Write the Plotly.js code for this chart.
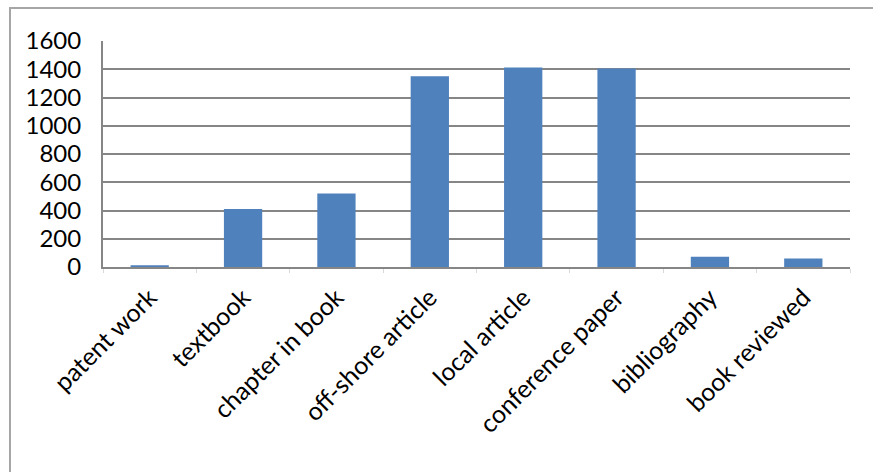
<!DOCTYPE html>
<html>
<head>
<meta charset="utf-8">
<script src="https://cdn.plot.ly/plotly-3.0.1.min.js"></script>
<style>
  html, body { margin: 0; padding: 0; background: #fff; overflow: hidden; }
  #frame { position: absolute; left: 9px; top: 7px; width: 900px; height: 500px; border: 2px solid #a6a6a6; box-sizing: border-box; }
  #chart { position: absolute; left: 0; top: 0; width: 873px; height: 472px; }
</style>
</head>
<body>
<div id="frame"></div>
<div id="chart"></div>
<script>
const categories = ["patent work", "textbook", "chapter in book", "off-shore article", "local article", "conference paper", "bibliography", "book reviewed"];
const values = [12, 410, 520, 1350, 1412, 1405, 73, 60];
const yTicks = [0, 200, 400, 600, 800, 1000, 1200, 1400, 1600];

const trace = {
  type: 'bar',
  x: categories,
  y: values,
  marker: { color: '#4f81bd' },
  hoverinfo: 'x+y'
};

const layout = {
  width: 873,
  height: 472,
  margin: { l: 103, r: 23, t: 41, b: 205 },
  paper_bgcolor: 'rgba(0,0,0,0)',
  plot_bgcolor: 'rgba(0,0,0,0)',
  bargap: 0.59,
  showlegend: false,
  font: { family: 'Lato, Carlito, Calibri, sans-serif', size: 25, color: '#000' },
  xaxis: {
    type: 'category',
    tickangle: -45,
    showline: true,
    linecolor: '#868686',
    linewidth: 2,
    ticks: 'outside',
    tickson: 'boundaries',
    ticklen: 4,
    tickcolor: '#d9d9d9',
    showgrid: false,
    ticklabelstandoff: 4,
    tickfont: { size: 25 }
  },
  yaxis: {
    range: [0, 1600],
    tickvals: yTicks,
    ticktext: yTicks.map(String),
    showline: true,
    linecolor: '#868686',
    linewidth: 2,
    showgrid: true,
    gridcolor: '#868686',
    gridwidth: 2,
    zeroline: false,
    ticks: '',
    ticklabelstandoff: 15,
    tickfont: { size: 24 }
  }
};

Plotly.newPlot('chart', [trace], layout, { staticPlot: true, displayModeBar: false });
</script>
</body>
</html>
